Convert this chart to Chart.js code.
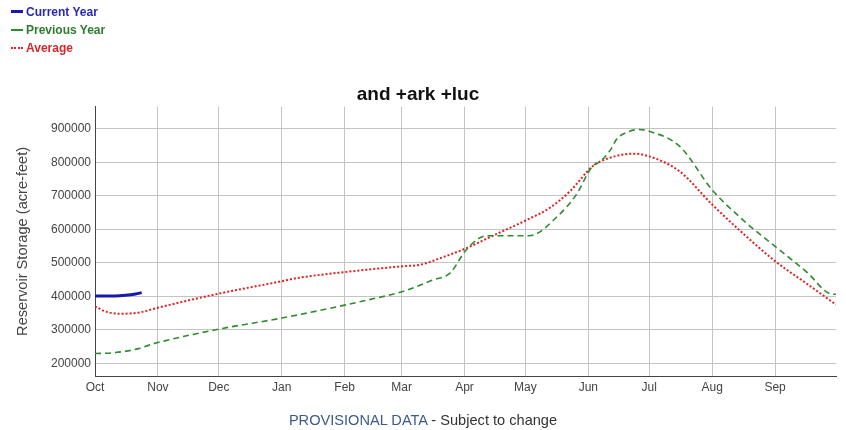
<!DOCTYPE html>
<html>
<head>
<meta charset="utf-8">
<script src="https://cdn.jsdelivr.net/npm/chart.js@4"></script>
<style>
  html, body { margin: 0; padding: 0; background: #fff; }
  #wrap { position: relative; width: 846px; height: 430px; overflow: hidden; font-family: "Liberation Sans", Arial, sans-serif; }
  #c { position: absolute; left: 0; top: 0; }
  .leg { position: absolute; left: 11px; font-size: 12px; font-weight: bold; line-height: 14px; white-space: nowrap; }
  .leg span.s { display: inline-block; width: 12px; height: 0; vertical-align: middle; margin-right: 3px; position: relative; top: -1px; }
  #foot { position: absolute; left: 0; width: 846px; top: 412px; text-align: center; font-size: 14.6px; color: #333; }
</style>
</head>
<body>
<div id="wrap">
  <canvas id="c" width="846" height="430"></canvas>
  <div class="leg" style="top:5px;color:#2a2ab0"><span class="s" style="border-top:3px solid #1a1aa8"></span>Current Year</div>
  <div class="leg" style="top:23px;color:#2e7d2e"><span class="s" style="border-top:2px dashed #2e8b2e"></span>Previous Year</div>
  <div class="leg" style="top:41px;color:#d62828"><span class="s" style="border-top:2px dotted #e02020"></span>Average</div>
  <div id="foot"><span style="color:#3b5b8a">PROVISIONAL DATA</span> - Subject to change</div>
</div>
<script>
// Month tick labels (water year, day offsets from Oct 1)
const monthLabels = ["Oct","Nov","Dec","Jan","Feb","Mar","Apr","May","Jun","Jul","Aug","Sep"];
const monthDays   = [0, 31, 61, 92, 123, 151, 182, 212, 243, 273, 304, 335];
const yTicks = [200000, 300000, 400000, 500000, 600000, 700000, 800000, 900000];

// Current Year
const currentDays   = [0, 5, 10, 15, 20, 23];
const currentValues = [401000, 401000, 401000, 403000, 407000, 411000];

// Previous Year
const prevDays   = [0, 10, 21, 27, 31, 61, 92, 124, 135, 152, 166, 175, 183, 193, 214, 228, 237, 245, 249, 254, 257, 262, 268, 273, 288, 304, 319, 335, 351, 362, 365];
const prevValues = [229000, 232000, 243000, 255000, 262000, 302000, 335000, 375000, 390000, 415000, 448000, 470000, 540000, 581000, 581000, 640000, 703000, 788000, 803000, 838000, 870000, 890000, 898000, 893000, 848000, 718000, 629000, 549000, 470000, 408000, 406000];

// Average
const avgDays   = [0, 5, 12, 22, 31, 61, 92, 100, 124, 152, 160, 171, 183, 196, 213, 224, 234, 245, 249, 265, 273, 288, 304, 319, 335, 351, 365];
const avgValues = [370000, 355000, 348000, 352000, 366000, 408000, 445000, 455000, 473000, 490000, 494000, 516000, 544000, 581000, 629000, 664000, 714000, 788000, 803000, 826000, 818000, 773000, 674000, 589000, 505000, 436000, 375000];

const pts = (xs, ys) => xs.map((x, i) => ({ x: x, y: ys[i] }));
const FONT = "'Liberation Sans', Arial, sans-serif";

new Chart(document.getElementById('c'), {
  type: 'line',
  data: {
    datasets: [
      { label: 'Current Year', data: pts(currentDays, currentValues), borderColor: '#1a1aa8', borderWidth: 3, pointRadius: 0, cubicInterpolationMode: 'monotone', fill: false },
      { label: 'Previous Year', data: pts(prevDays, prevValues), borderColor: '#2e8b2e', borderWidth: 1.6, borderDash: [6, 4], pointRadius: 0, cubicInterpolationMode: 'monotone', fill: false },
      { label: 'Average', data: pts(avgDays, avgValues), borderColor: '#e02020', borderWidth: 2, borderDash: [2, 2], pointRadius: 0, cubicInterpolationMode: 'monotone', fill: false }
    ]
  },
  options: {
    responsive: false,
    animation: false,
    devicePixelRatio: 1,
    layout: { padding: { top: 83, left: 0, right: 10, bottom: 0 } },
    plugins: {
      legend: { display: false },
      tooltip: { enabled: false },
      title: {
        display: true,
        text: 'and +ark +luc',
        color: '#111',
        font: { family: FONT, size: 19, weight: 'bold' },
        padding: { top: 0, bottom: 1 }
      }
    },
    scales: {
      x: {
        type: 'linear',
        min: 0,
        max: 365,
        afterBuildTicks: (s) => { s.ticks = monthDays.map(v => ({ value: v })); },
        afterFit: (s) => { s.height = 54; },
        ticks: {
          autoSkip: false,
          maxRotation: 0,
          padding: 4,
          color: '#444',
          font: { family: FONT, size: 12 },
          callback: (v) => { const i = monthDays.indexOf(v); return i >= 0 ? monthLabels[i] : ''; }
        },
        grid: { color: '#c4c4c4', drawTicks: false },
        border: { display: true, color: '#444', width: 1 }
      },
      y: {
        min: 162000,
        max: 966000,
        afterBuildTicks: (s) => { s.ticks = yTicks.map(v => ({ value: v })); },
        afterFit: (s) => { s.width = 95; },
        title: {
          display: true,
          text: 'Reservoir Storage (acre-feet)',
          color: '#444',
          font: { family: FONT, size: 14.6 },
          padding: { top: 14, bottom: 0 }
        },
        ticks: {
          padding: 4,
          color: '#444',
          font: { family: FONT, size: 12 },
          callback: (v) => String(v)
        },
        grid: { color: '#c4c4c4', drawTicks: false },
        border: { display: true, color: '#444', width: 1 }
      }
    }
  }
});
</script>
</body>
</html>
